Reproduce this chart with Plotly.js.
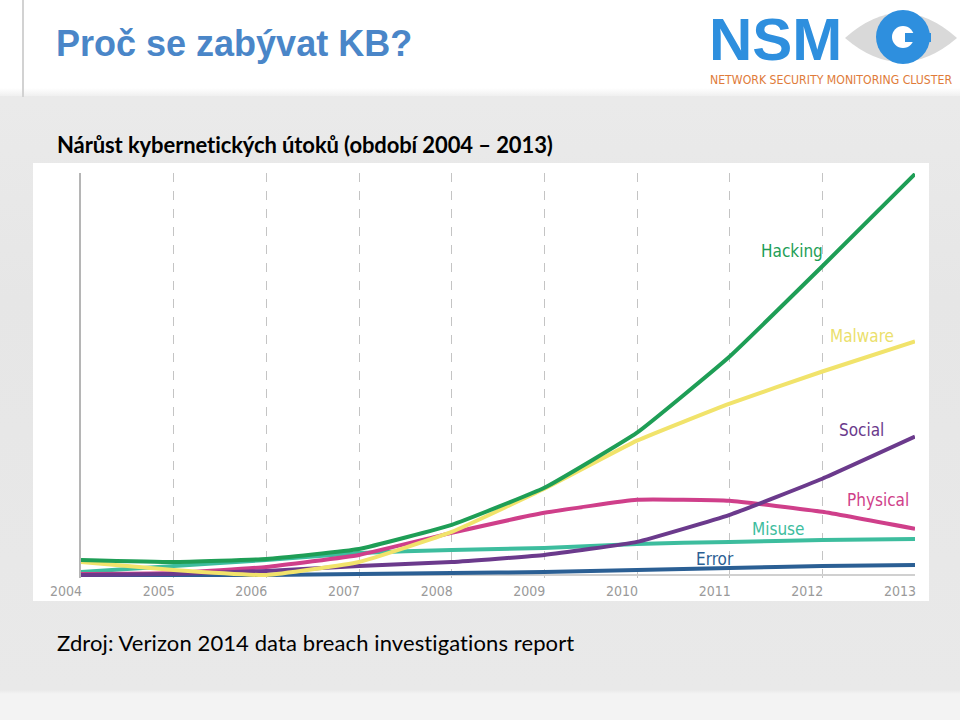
<!DOCTYPE html>
<html>
<head>
<meta charset="utf-8">
<script src="https://cdn.plot.ly/plotly-3.0.1.min.js"></script>
<style>
  html, body { margin:0; padding:0; width:960px; height:720px; overflow:hidden; }
  body {
    position:relative;
    background: linear-gradient(to bottom, #ececec 0px, #e6e6e6 300px, #e9e9e9 690px, #f3f3f3 694px, #f3f3f3 720px);
    font-family: "Liberation Sans", Arial, sans-serif;
  }
  #header { position:absolute; left:0; top:0; width:960px; height:96px;
    background: linear-gradient(to bottom, #ffffff 0px, #ffffff 88px, #f0f0f0 96px); }
  #vline { position:absolute; left:22px; top:0; width:2px; height:97px; background:#d2d2d2; }
  #title { position:absolute; left:56px; top:23px; font: bold 36px "Liberation Sans", Arial, sans-serif; color:#4a86c8; white-space:nowrap; }
  #whitebox { position:absolute; left:33px; top:163px; width:896px; height:438px; background:#ffffff; }
  #subtitle { position:absolute; left:57px; top:131px; font: bold 22px Lato, "Open Sans", sans-serif; color:#000; white-space:nowrap; letter-spacing:-0.1px; }
  #source { position:absolute; left:57px; top:629px; font: 22px Lato, "Open Sans", sans-serif; color:#000; white-space:nowrap; letter-spacing:0.1px; }
  #logo { position:absolute; left:700px; top:0; width:260px; height:92px; }
  #chart { position:absolute; left:0; top:0; width:960px; height:720px; }
</style>
</head>
<body>
<div id="header"></div>
<div id="vline"></div>
<div id="title">Proč se zabývat KB?</div>
<div id="whitebox"></div>
<div id="subtitle">Nárůst kybernetických útoků (období 2004 – 2013)</div>
<div id="source">Zdroj: Verizon 2014 data breach investigations report</div>
<svg id="logo" width="260" height="92" viewBox="0 0 260 92">
  <path d="M145,38 Q201,-12 257,38 Q201,86 145,38 Z" fill="#d9d9d9"/>
  <circle cx="203" cy="37" r="27" fill="#2e8fde"/>
  <circle cx="203" cy="37" r="11" fill="#ffffff"/>
  <rect x="205" y="33" width="26" height="9" fill="#2e8fde"/>
  <text x="9" y="60" font-family="Liberation Sans, Arial, sans-serif" font-weight="bold" font-size="60" fill="#2e8fde">NSM</text>
  <text x="10" y="84" font-family="DejaVu Sans Condensed, Liberation Sans Narrow, sans-serif" font-size="11.5" fill="#e07b39" textLength="242" lengthAdjust="spacingAndGlyphs">NETWORK SECURITY MONITORING CLUSTER</text>
</svg>
<div id="chart"></div>
<script>
const years = [2004, 2005, 2006, 2007, 2008, 2009, 2010, 2011, 2012, 2013];
const tickLabels = ["2004", "2005", "2006", "2007", "2008", "2009", "2010", "2011", "2012", "2013"];

const hacking  = [15, 13, 16, 26, 50, 87, 142, 218, 308, 400];
const malware  = [13, 5, 0, 13, 43, 86, 134, 171, 203, 233];
const social   = [0, 1, 4, 9, 13, 20, 33, 60, 96, 138];
const physical = [1, 2, 8, 20, 42, 62, 75, 74, 63, 46];
const misuse   = [3, 9, 15, 22, 25, 27, 31, 33, 35, 36];
const error    = [0, 0, 0, 1, 2, 3, 5, 7, 9, 10];

const seriesNames  = ["Error", "Misuse", "Physical", "Social", "Malware", "Hacking"];
const seriesValues = [error, misuse, physical, social, malware, hacking];
const seriesColors = ["#2b5f94", "#3dbd9e", "#cf3f8a", "#6b3a8c", "#f1e36b", "#1e9e56"];
const labelColors  = ["#2b5f94", "#3dbd9e", "#cf3f8a", "#6b3a8c", "#ebdf6c", "#1e9e56"];

// label anchor points (year, value) for direct labels
const labelX = [2010.84, 2011.53, 2012.6, 2012.42, 2012.43, 2011.67];
const labelY = [16, 46, 75, 145, 238, 323];

const traces = seriesNames.map((n, i) => ({
  type: "scatter", mode: "lines", name: n,
  x: years, y: seriesValues[i],
  line: { color: seriesColors[i], width: 4, shape: "spline", smoothing: 0.35 },
  hoverinfo: "x+y+name"
}));

const labelFont = "DejaVu Sans Condensed, Liberation Sans Narrow, sans-serif";
const annotations = seriesNames.map((n, i) => ({
  x: labelX[i], y: labelY[i], xref: "x", yref: "y",
  text: n, showarrow: false,
  font: { family: labelFont, size: 17, color: labelColors[i] },
  xanchor: "center", yanchor: "middle"
}));

const layout = {
  width: 960, height: 720,
  margin: { l: 81, r: 45, t: 173, b: 142, pad: 0 },
  paper_bgcolor: "rgba(0,0,0,0)",
  plot_bgcolor: "rgba(0,0,0,0)",
  showlegend: false,
  xaxis: {
    range: [2004, 2013], tickvals: years, ticktext: tickLabels,
    showgrid: true, gridcolor: "#c4c4c4", gridwidth: 1, griddash: "dash",
    zeroline: false, showline: false, ticks: "",
    ticklabelshift: -15, ticklabelstandoff: 3,
    tickfont: { family: labelFont, size: 14, color: "#9a9a9a" },
    fixedrange: true
  },
  yaxis: {
    range: [-3, 401], showgrid: false, showticklabels: false, ticks: "",
    zeroline: true, zerolinecolor: "#d0d0d0", zerolinewidth: 1.5,
    showline: true, linecolor: "#b5b5b5", linewidth: 2,
    fixedrange: true
  },
  annotations: annotations
};

Plotly.newPlot("chart", traces, layout, { displayModeBar: false, staticPlot: true });
</script>
</body>
</html>
